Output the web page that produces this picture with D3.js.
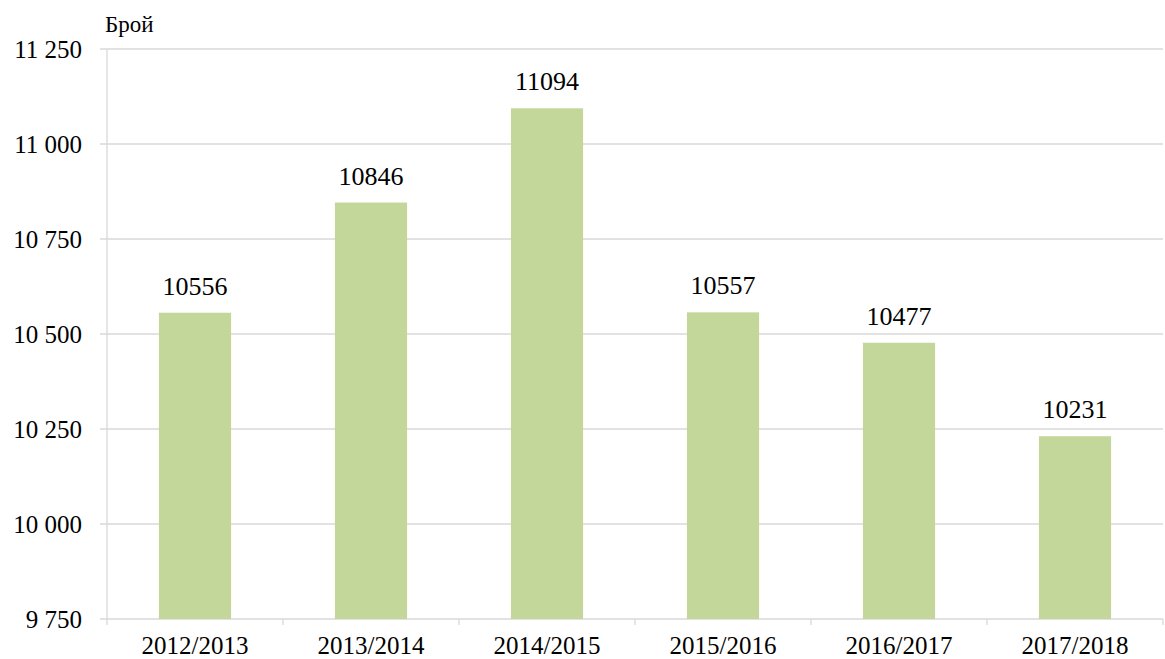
<!DOCTYPE html>
<html>
<head>
<meta charset="utf-8">
<script src="https://cdn.jsdelivr.net/npm/d3@7"></script>
<style>
  body { margin: 0; background: #fff; }
</style>
</head>
<body>
<div id="chart"></div>
<script>
var categories = ["2012/2013", "2013/2014", "2014/2015", "2015/2016", "2016/2017", "2017/2018"];
var values = [10556, 10846, 11094, 10557, 10477, 10231];
var yTicks = [9750, 10000, 10250, 10500, 10750, 11000, 11250];
var yTitle = "Брой";

var serif = "'Liberation Serif', 'Times New Roman', Times, serif";

var margin = { top: 49, right: 2, bottom: 40, left: 107 },
    width = 1165 - margin.left - margin.right,
    height = 659 - margin.top - margin.bottom;

var svg = d3.select("#chart").append("svg")
    .attr("width", 1165)
    .attr("height", 659)
    .style("font-family", serif)
  .append("g")
    .attr("transform", "translate(" + margin.left + "," + margin.top + ")");

var x = d3.scaleBand()
    .domain(categories)
    .range([0, width])
    .paddingInner(0.59)
    .paddingOuter(0.295);

var y = d3.scaleLinear()
    .domain([9750, 11250])
    .range([height, 0]);

var fmt = function(d) { return d3.format(",")(d).replace(",", " "); };

// gridlines
svg.append("g")
    .selectAll("line")
    .data(yTicks)
  .enter().append("line")
    .attr("x1", -7)
    .attr("x2", width)
    .attr("y1", function(d) { return y(d); })
    .attr("y2", function(d) { return y(d); })
    .attr("stroke", "#d9d9d9")
    .attr("stroke-width", 1.3);

// y axis labels
var yAxis = svg.append("g")
    .call(d3.axisLeft(y).tickValues(yTicks).tickFormat(fmt).tickSize(0).tickPadding(25));
yAxis.select(".domain").remove();
yAxis.selectAll("text")
    .style("font-family", serif)
    .style("font-size", "25px")
    .attr("fill", "#000")
    .attr("dy", "0.33em");

// left axis line
svg.append("line")
    .attr("x1", 0).attr("x2", 0)
    .attr("y1", 0).attr("y2", height)
    .attr("stroke", "#d9d9d9")
    .attr("stroke-width", 1.3);

// category separators
var step = width / categories.length;
svg.append("g")
    .selectAll("line")
    .data(d3.range(categories.length + 1))
  .enter().append("line")
    .attr("x1", function(i) { return i * step; })
    .attr("x2", function(i) { return i * step; })
    .attr("y1", height)
    .attr("y2", height + 6)
    .attr("stroke", "#d9d9d9")
    .attr("stroke-width", 1.3);

// bars
svg.selectAll(".bar")
    .data(values)
  .enter().append("rect")
    .attr("class", "bar")
    .attr("x", function(d, i) { return x(categories[i]); })
    .attr("width", x.bandwidth())
    .attr("y", function(d) { return y(d); })
    .attr("height", function(d) { return height - y(d); })
    .attr("fill", "#c4d79b");

// value labels
svg.selectAll(".val")
    .data(values)
  .enter().append("text")
    .attr("class", "val")
    .attr("x", function(d, i) { return x(categories[i]) + x.bandwidth() / 2; })
    .attr("y", function(d) { return y(d) - 18; })
    .attr("text-anchor", "middle")
    .style("font-family", serif)
    .style("font-size", "26px")
    .attr("fill", "#000")
    .text(function(d) { return d; });

// x axis labels
var xAxis = svg.append("g")
    .attr("transform", "translate(0," + height + ")")
    .call(d3.axisBottom(x).tickSize(0).tickPadding(0));
xAxis.select(".domain").remove();
xAxis.selectAll("text")
    .attr("dy", null)
    .attr("y", 35)
    .style("font-family", serif)
    .style("font-size", "25px")
    .attr("fill", "#000");

// y title
svg.append("text")
    .attr("x", -2)
    .attr("y", -17)
    .style("font-family", serif)
    .style("font-size", "23px")
    .attr("fill", "#000")
    .text(yTitle);
</script>
</body>
</html>
